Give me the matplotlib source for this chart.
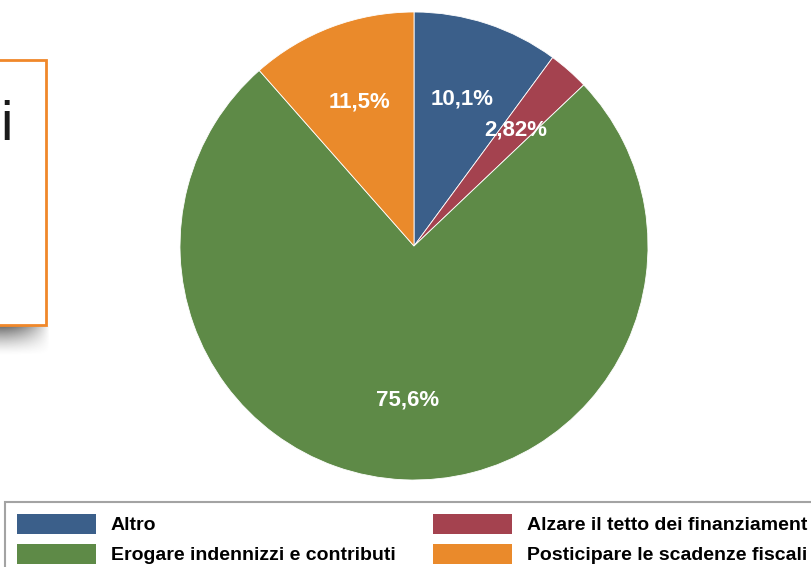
import matplotlib.pyplot as plt
import numpy as np
from matplotlib.patches import Rectangle

W, H = 812, 567

# data
categories = ["Altro", "Alzare il tetto dei finanziament",
              "Erogare indennizzi e contributi", "Posticipare le scadenze fiscali"]
shares = [10.1, 2.82, 75.6, 11.5]
pct_labels = ["10,1%", "2,82%", "75,6%", "11,5%"]
colors = ["#3b5f8a", "#a4424f", "#5e8a47", "#ea8a2b"]

LEG_FONT = ["Liberation Sans", "DejaVu Sans"]


def px(x, y):
    # pixel coords (top-left origin) -> figure fraction
    return x / W, 1 - y / H


fig = plt.figure(figsize=(W / 100, H / 100), dpi=100)
fig.patch.set_facecolor("white")

# pie, centre (414, 246), radius ~234 px
cx, cy, r = 414, 246, 234
ax = fig.add_axes([(cx - r) / W, (H - cy - r) / H, 2 * r / W, 2 * r / H])
wedges, texts = ax.pie(shares, labels=pct_labels, colors=colors, startangle=90,
                       counterclock=False, labeldistance=0.66,
                       wedgeprops=dict(edgecolor="white", linewidth=0.6))
for t in texts:
    t.set_color("white")
    t.set_fontsize(16)
    t.set_fontweight("bold")
    t.set_family(["Liberation Sans", "DejaVu Sans"])
    t.set_ha("center")
    t.set_va("center")
ax.set_xlim(-1, 1)
ax.set_ylim(-1, 1)
ax.set_aspect("equal")
ax.axis("off")

# legend at the bottom, row-major order like the original, cut off by the edge
order = [0, 2, 1, 3]
lx, ltop = px(5, 502)
leg = fig.legend([wedges[i] for i in order], [categories[i] for i in order],
                 loc="upper left", bbox_to_anchor=(lx, ltop), ncol=2,
                 frameon=True, fancybox=False,
                 handlelength=4.1, handleheight=1.2, handletextpad=0.75,
                 columnspacing=1.9, borderaxespad=0, borderpad=0.6,
                 labelspacing=0.5,
                 prop=dict(family=LEG_FONT, weight="bold", size=14))
leg.get_frame().set_edgecolor("#8c8c8c")
leg.get_frame().set_linewidth(1.5)
for h in leg.legend_handles:
    h.set_edgecolor("none")

# soft drop shadow under the orange box (gradient image, pixels 0..50 x 326..356)
sh_w, sh_h = 50, 30
gx = np.linspace(0, 1, sh_w)[None, :]
gy = np.linspace(0, 1, sh_h)[:, None]
alpha = np.clip(1 - gx ** 2, 0, 1) * np.clip(1 - gy, 0, 1) ** 1.5 * 0.75
shadow = np.zeros((sh_h, sh_w, 4))
shadow[..., :3] = 0.25
shadow[..., 3] = alpha
fig.figimage(shadow, xo=0, yo=H - 326 - sh_h, origin="upper", zorder=1)

bx, by = px(-10, 325)
fig.patches.append(Rectangle((bx, by), 56 / W, 265 / H, transform=fig.transFigure,
                             facecolor="white", edgecolor="#f0882a",
                             linewidth=2, zorder=2))
tx, ty = px(6, 140)
fig.text(tx, ty, "i", fontsize=40, color="#1a1a1a", ha="center", va="baseline",
         family=["Liberation Sans", "DejaVu Sans"], zorder=3)

fig.savefig("out.png", dpi=100)
